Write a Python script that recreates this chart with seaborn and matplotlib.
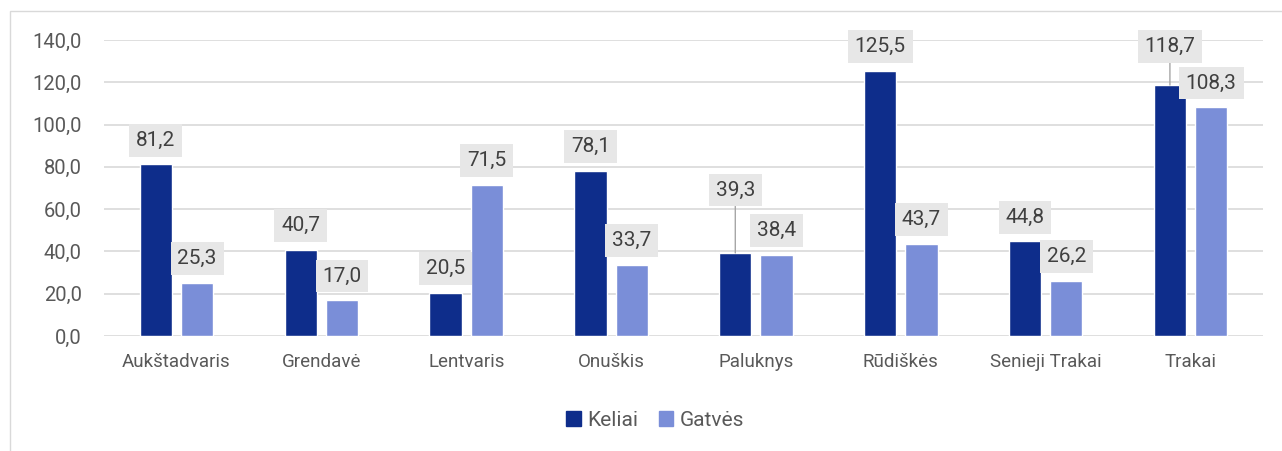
import matplotlib
matplotlib.use("Agg")
import matplotlib.pyplot as plt
import matplotlib.patches as mpatches
from matplotlib.ticker import FuncFormatter
import seaborn as sns
import pandas as pd

# data
vietoves = ['Aukštadvaris', 'Grendavė', 'Lentvaris', 'Onuškis', 'Paluknys',
            'Rūdiškės', 'Senieji Trakai', 'Trakai']
keliai = [81.2, 40.7, 20.5, 78.1, 39.3, 125.5, 44.8, 118.7]
gatves = [25.3, 17.0, 71.5, 33.7, 38.4, 43.7, 26.2, 108.3]
serijos = ['Keliai', 'Gatvės']

# extra lift (points) for labels that were moved up in the original
label_lift = {('Keliai', 'Paluknys'): 28, ('Keliai', 'Trakai'): 10.5}

DARK = '#0e2d8b'
LIGHT = '#7a8ed8'
TEXT = '#595959'
GRID = '#d9d9d9'


def fmt(v):
    return f'{v:.1f}'.replace('.', ',')


df = pd.DataFrame({
    'vietove': vietoves * 2,
    'ilgis': keliai + gatves,
    'tipas': [serijos[0]] * len(vietoves) + [serijos[1]] * len(vietoves),
})

sns.set_theme(style='white')
plt.rcParams['font.family'] = ['Roboto', 'DejaVu Sans']

fig = plt.figure(figsize=(12.82, 4.51), dpi=100)
ax = fig.add_axes([104 / 1282, 1 - 336 / 451, (1263 - 104) / 1282, (336 - 40) / 451])

sns.barplot(data=df, x='vietove', y='ilgis', hue='tipas', palette=[DARK, LIGHT],
            width=0.57, gap=0.22, saturation=1, ax=ax, legend=False)

ax.set_ylim(0, 140)
ax.set_yticks(range(0, 141, 20))
ax.yaxis.set_major_formatter(FuncFormatter(lambda v, p: fmt(v)))
ax.yaxis.grid(True, color=GRID, lw=1.2)
ax.set_axisbelow(True)
for s in ax.spines.values():
    s.set_visible(False)
ax.tick_params(axis='y', length=0, pad=16, labelsize=14.5, labelcolor=TEXT)
ax.tick_params(axis='x', length=0, pad=12, labelsize=13.5, labelcolor=TEXT)
ax.set_xlabel('')
ax.set_ylabel('')

# value labels in grey boxes
for serija, cont in zip(serijos, ax.containers):
    for name, bar in zip(vietoves, cont):
        h = bar.get_height()
        x = bar.get_x() + bar.get_width() / 2
        lift = label_lift.get((serija, name), 0)
        arrow = None
        if lift:
            arrow = dict(arrowstyle='-', color='#a6a6a6', lw=1, shrinkA=0, shrinkB=0)
        ax.annotate(fmt(h), xy=(x, h), xytext=(0, 10.5 + lift), textcoords='offset points',
                    ha='center', va='bottom', fontsize=15, color='#404040',
                    bbox=dict(boxstyle='square,pad=0.33', fc='#e7e7e7', ec='none'),
                    arrowprops=arrow, annotation_clip=False)

handles = [mpatches.Patch(color=DARK, label=serijos[0]),
           mpatches.Patch(color=LIGHT, label=serijos[1])]
leg = fig.legend(handles=handles, loc='center', bbox_to_anchor=(655 / 1282, 1 - 420 / 451),
                 ncol=2, frameon=False, fontsize=15, handlelength=0.7, handleheight=0.7,
                 handletextpad=0.3, columnspacing=1.0)
for t in leg.get_texts():
    t.set_color(TEXT)

# chart area border
fig.patches.append(mpatches.Rectangle((10 / 1282, -0.1), 2, 1.1 - 11 / 451,
                                      transform=fig.transFigure, fill=False,
                                      edgecolor=GRID, lw=1))

fig.savefig('out.png', dpi=100)
